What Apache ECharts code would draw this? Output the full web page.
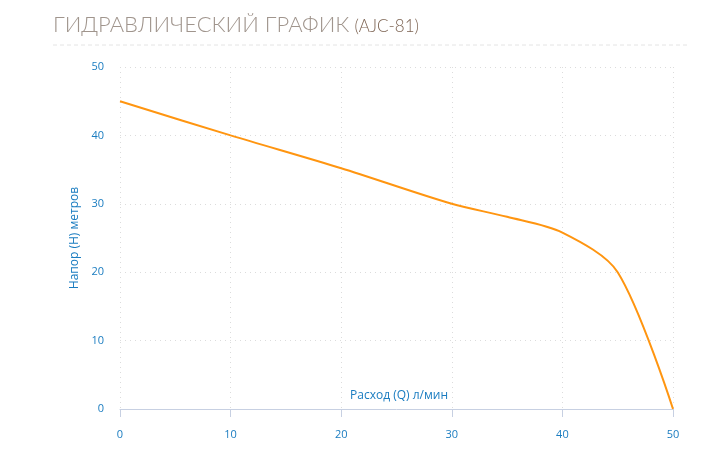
<!DOCTYPE html>
<html><head><meta charset="utf-8">
<script src="https://cdn.jsdelivr.net/npm/echarts@6/dist/echarts.min.js"></script>
<style>html,body{margin:0;padding:0;background:#fff}#c{width:711px;height:461px}</style>
</head><body><div id="c"></div>
<script>
const flowQ = [0, 10, 20, 30, 35, 40, 45, 50];
const headH = [45, 40, 35.2, 30, 28.1, 25.8, 20, 0];
const xTicks = [0, 10, 20, 30, 40, 50];
const yTicks = [0, 10, 20, 30, 40, 50];
const titleMain = 'ГИДРАВЛИЧЕСКИЙ ГРАФИК';
const titleSub = '(AJC-81)';
const xName = 'Расход (Q) л/мин';
const yName = 'Напор (Н) метров';

const chart = echarts.init(document.getElementById('c'));
const blue = '#1a7cc0';
chart.setOption({
  animation: false,
  title: {
    left: 48, top: 9,
    text: '{a|' + titleMain + '} {b|' + titleSub + '}',
    textStyle: {
      rich: {
        a: {fontFamily: 'Lato, sans-serif', fontSize: 22, color: '#a0958d', fontWeight: 300},
        b: {fontFamily: 'Lato, sans-serif', fontSize: 17, color: '#7d6453', fontWeight: 300, padding: [3,0,0,0]}
      }
    }
  },
  graphic: [
    {type: 'line', shape: {x1: 53, y1: 45, x2: 688, y2: 45}, style: {stroke: '#e4e4e4', lineDash: [4, 3], lineWidth: 1}},
    {type: 'text', left: 350, top: 390, style: {text: xName, fill: blue, font: '12px "Open Sans", sans-serif'}}
  ],
  grid: {left: 120, right: 38, top: 67, bottom: 52},
  xAxis: {
    type: 'value', min: xTicks[0], max: xTicks[xTicks.length - 1], interval: 10,
    axisLine: {lineStyle: {color: '#c7d0e2', width: 1}},
    axisTick: {show: true, length: 8, lineStyle: {color: '#c7d0e2'}},
    axisLabel: {color: blue, fontSize: 11, margin: 20, fontFamily: 'Open Sans, sans-serif'},
    splitLine: {show: true, lineStyle: {color: '#dcdcdc', type: [1, 4]}}
  },
  yAxis: {
    type: 'value', min: yTicks[0], max: yTicks[yTicks.length - 1], interval: 10,
    name: yName, nameLocation: 'middle', nameGap: 38,
    nameTextStyle: {color: blue, fontSize: 12, fontFamily: 'Open Sans, sans-serif'},
    axisLine: {show: false}, axisTick: {show: false},
    axisLabel: {color: blue, fontSize: 11, margin: 16, fontFamily: 'Open Sans, sans-serif'},
    splitLine: {show: true, lineStyle: {color: '#dcdcdc', type: [1, 4]}}
  },
  series: [{
    type: 'line', data: flowQ.map((q, i) => [q, headH[i]]),
    smooth: 0.3, showSymbol: false,
    lineStyle: {color: '#ff9510', width: 2}
  }]
});
</script></body></html>
